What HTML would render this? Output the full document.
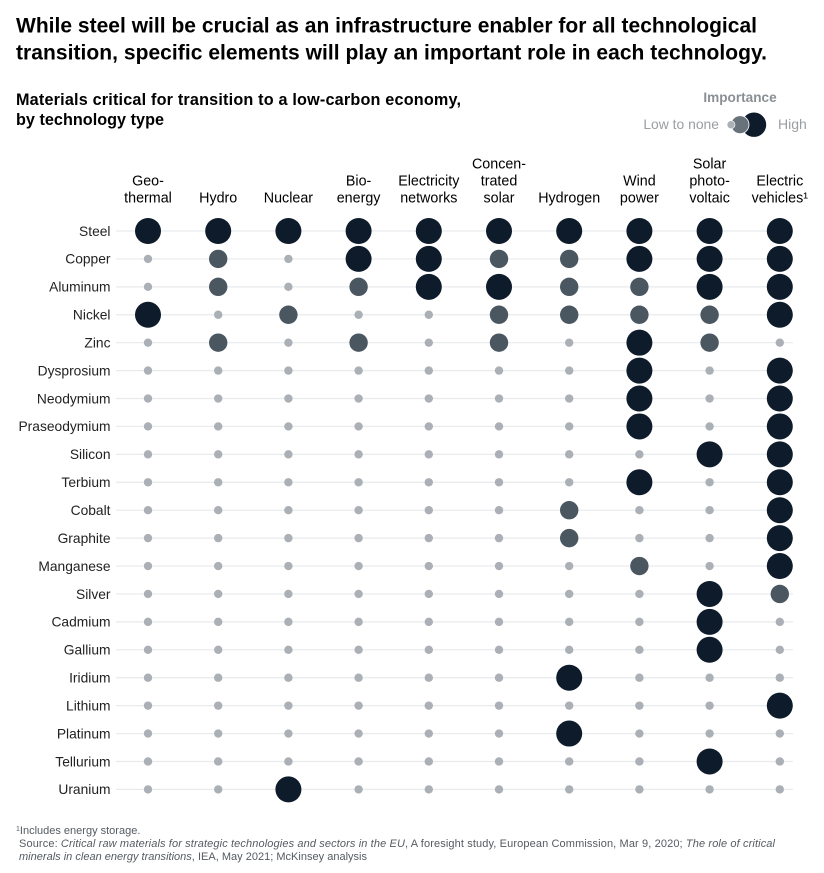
<!DOCTYPE html>
<html lang="en">
<head>
<meta charset="utf-8">
<title>Materials critical for transition to a low-carbon economy</title>
<style>
html,body{margin:0;padding:0;background:#fff;}
body{width:824px;height:873px;overflow:hidden;position:relative;font-family:"Liberation Sans",sans-serif;color:#000;}
svg{position:absolute;left:0;top:0;}
text{font-family:"Liberation Sans",sans-serif;}
</style>
</head>
<body>
<svg id="chart" width="824" height="873" viewBox="0 0 824 873">
  <g font-size="21" font-weight="bold" fill="#000">
    <text x="16" y="32.5" textLength="741" lengthAdjust="spacing">While steel will be crucial as an infrastructure enabler for all technological</text>
    <text x="16" y="59.5" textLength="751" lengthAdjust="spacing">transition, specific elements will play an important role in each technology.</text>
  </g>
  <g font-size="16.2" font-weight="bold" fill="#000">
    <text x="16" y="105" textLength="445" lengthAdjust="spacing">Materials critical for transition to a low-carbon economy,</text>
    <text x="16" y="125" textLength="148" lengthAdjust="spacing">by technology type</text>
  </g>
  <g>
    <text x="740" y="102" text-anchor="middle" font-size="13.6" font-weight="bold" fill="#8a8f94">Importance</text>
    <text x="719" y="129" text-anchor="end" font-size="13.9" fill="#9a9ea3">Low to none</text>
    <circle cx="754" cy="124.7" r="12.5" fill="#0d1b2a" stroke="#fff" stroke-width="0.6"></circle>
    <circle cx="740" cy="124.7" r="9" fill="#68727a" stroke="#fff" stroke-width="0.8"></circle>
    <circle cx="731" cy="124.7" r="4" fill="#abb0b6" stroke="#fff" stroke-width="0.6"></circle>
    <text x="778" y="129" font-size="14" fill="#9a9ea3">High</text>
  </g>
  <g id="col-headers"></g>
  <g id="rows"></g>
  <g font-size="11" fill="#555b61">
    <text x="16" y="834"><tspan font-size="7" dy="-3">1</tspan><tspan dy="3">Includes energy storage.</tspan></text>
    <text x="19" y="847" textLength="756" lengthAdjust="spacing">Source: <tspan font-style="italic">Critical raw materials for strategic technologies and sectors in the EU</tspan>, A foresight study, European Commission, Mar 9, 2020; <tspan font-style="italic">The role of critical</tspan></text>
    <text x="19" y="860" textLength="348" lengthAdjust="spacing"><tspan font-style="italic">minerals in clean energy transitions</tspan>, IEA, May 2021; McKinsey analysis</text>
  </g>
</svg>
<script>
var technologies = [
  ["Geo-", "thermal"],
  ["Hydro"],
  ["Nuclear"],
  ["Bio-", "energy"],
  ["Electricity", "networks"],
  ["Concen-", "trated", "solar"],
  ["Hydrogen"],
  ["Wind", "power"],
  ["Solar", "photo-", "voltaic"],
  ["Electric", "vehicles¹"]
];
var materials = ["Steel","Copper","Aluminum","Nickel","Zinc","Dysprosium","Neodymium","Praseodymium","Silicon","Terbium","Cobalt","Graphite","Manganese","Silver","Cadmium","Gallium","Iridium","Lithium","Platinum","Tellurium","Uranium"];
/* importance: 1 = low to none, 2 = medium, 3 = high */
var importance = [
  [3,3,3,3,3,3,3,3,3,3],
  [1,2,1,3,3,2,2,3,3,3],
  [1,2,1,2,3,3,2,2,3,3],
  [3,1,2,1,1,2,2,2,2,3],
  [1,2,1,2,1,2,1,3,2,1],
  [1,1,1,1,1,1,1,3,1,3],
  [1,1,1,1,1,1,1,3,1,3],
  [1,1,1,1,1,1,1,3,1,3],
  [1,1,1,1,1,1,1,1,3,3],
  [1,1,1,1,1,1,1,3,1,3],
  [1,1,1,1,1,1,2,1,1,3],
  [1,1,1,1,1,1,2,1,1,3],
  [1,1,1,1,1,1,1,2,1,3],
  [1,1,1,1,1,1,1,1,3,2],
  [1,1,1,1,1,1,1,1,3,1],
  [1,1,1,1,1,1,1,1,3,1],
  [1,1,1,1,1,1,3,1,1,1],
  [1,1,1,1,1,1,1,1,1,3],
  [1,1,1,1,1,1,3,1,1,1],
  [1,1,1,1,1,1,1,1,3,1],
  [1,1,3,1,1,1,1,1,1,1]
];

var NS = "http://www.w3.org/2000/svg";
function xScale(i){ return 148 + i * 70.2; }
function yScale(i){ return 231 + i * 27.92; }
function radius(v){ return v === 3 ? 13 : v === 2 ? 9.2 : 4.2; }
function fill(v){ return v === 3 ? "#0d1b2a" : v === 2 ? "#4a5660" : "#abb0b6"; }

var headerGroup = document.getElementById("col-headers");
technologies.forEach(function(lines, c){
  var t = document.createElementNS(NS, "text");
  
  
  t.setAttribute("text-anchor", "middle");
  t.setAttribute("font-size", "14.3");
  t.setAttribute("fill", "#000");
  lines.forEach(function(line, k){
    var s = document.createElementNS(NS, "tspan");
    s.setAttribute("x", xScale(c));
    s.setAttribute("y", 202.5 - (lines.length - 1 - k) * 17);
    s.textContent = line;
    t.appendChild(s);
  });
  headerGroup.appendChild(t);
});

var rowGroup = document.getElementById("rows");
materials.forEach(function(name, r){
  var y = yScale(r);
  var g = document.createElementNS(NS, "g");
  
  

  var label = document.createElementNS(NS, "text");
  
  
  label.setAttribute("x", 110.5);
  label.setAttribute("y", y + 4.8);
  label.setAttribute("text-anchor", "end");
  label.setAttribute("font-size", "13.8");
  label.setAttribute("fill", "#222");
  label.textContent = name;
  g.appendChild(label);

  var line = document.createElementNS(NS, "line");
  
  
  line.setAttribute("x1", 116);
  line.setAttribute("x2", 793);
  line.setAttribute("y1", y);
  line.setAttribute("y2", y);
  line.setAttribute("stroke", "#e8eaec");
  line.setAttribute("stroke-width", "1.2");
  g.appendChild(line);

  importance[r].forEach(function(v, c){
    var dot = document.createElementNS(NS, "circle");
    
    
    dot.setAttribute("cx", xScale(c));
    dot.setAttribute("cy", y);
    dot.setAttribute("r", radius(v));
    dot.setAttribute("fill", fill(v));
    g.appendChild(dot);
  });
  rowGroup.appendChild(g);
});
</script>
</body>
</html>
